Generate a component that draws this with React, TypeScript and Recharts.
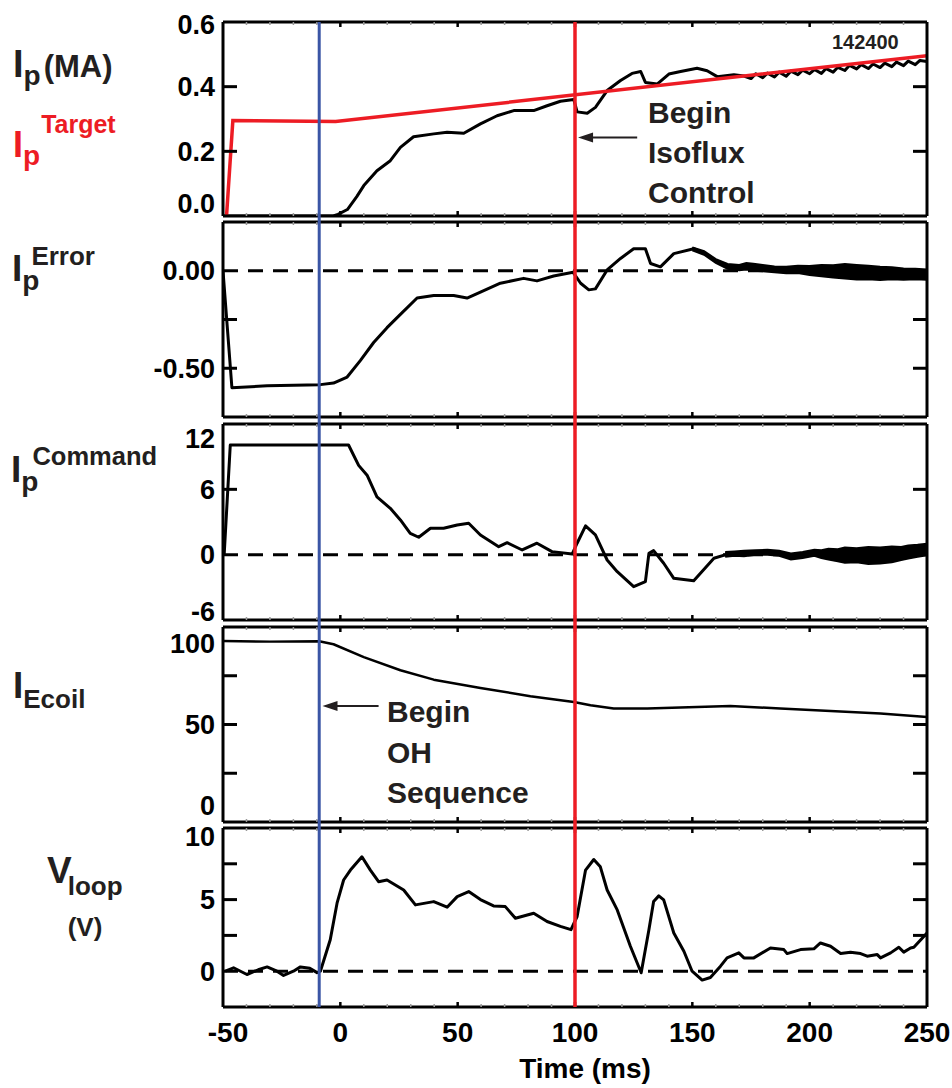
import React from 'react';
import { ComposedChart, Line, Area, XAxis, YAxis, ReferenceLine, ReferenceDot } from 'recharts';

// ---- time axis (ms) ----
const X_DOMAIN = [-50, 250];
const X_TICKS = [-50, -40, -30, -20, -10, 0, 10, 20, 30, 40, 50, 60, 70, 80, 90, 100, 110, 120, 130, 140, 150, 160, 170, 180, 190, 200, 210, 220, 230, 240, 250];
const X_LABELS = [-50, 0, 50, 100, 150, 200, 250];
const T_OH_START = -9;
const T_ISOFLUX = 100;

// ---- Ip (MA) ----
const IP_TICKS = [0, 0.2, 0.4, 0.6];
const IP_MEASURED: [number, number][] = [
  [-50, 0], [-3, 0], [-1, 0.005], [3, 0.02], [7, 0.06], [10, 0.094], [15.6, 0.14], [21.3, 0.171],
  [25.6, 0.212], [31.2, 0.245], [39.8, 0.254], [45.5, 0.259], [52.6, 0.256], [59.7, 0.285],
  [66.8, 0.31], [73.9, 0.326], [82.4, 0.326], [88.1, 0.341], [93.8, 0.355], [99.5, 0.36],
  [100.9, 0.322], [105.2, 0.318], [108.7, 0.336], [113.7, 0.388], [119.4, 0.419], [124.3, 0.441],
  [128, 0.447], [130, 0.413], [135, 0.408], [140, 0.439], [145, 0.447], [152, 0.457], [156.3, 0.449],
  [160.6, 0.431], [167.7, 0.437], [172, 0.433], [175, 0.425], [177, 0.44], [180, 0.428], [182, 0.442],
  [185, 0.43], [187, 0.445], [190, 0.432], [192, 0.448], [195, 0.437], [197, 0.451], [200, 0.44],
  [202, 0.453], [205, 0.441], [207, 0.456], [210, 0.445], [212, 0.46], [215, 0.45], [217, 0.466],
  [220, 0.455], [222, 0.468], [225, 0.456], [227, 0.47], [230, 0.459], [232, 0.473], [235, 0.462],
  [237, 0.476], [240, 0.465], [242, 0.479], [245, 0.468], [247, 0.481], [250, 0.478],
];
const IP_TARGET: [number, number][] = [[-48.5, 0], [-45.8, 0.295], [-2, 0.292], [250, 0.496]];

// ---- Ip error ----
const ERR_TICKS = [-0.75, -0.5, -0.25, 0, 0.25];
const ERR_LABELS = [-0.5, 0];
const IP_ERROR: [number, number][] = [
  [-50, 0], [-46.2, -0.6], [-31.2, -0.59], [-8.5, -0.584], [-2.9, -0.576], [2.9, -0.545], [8.5, -0.461],
  [14.2, -0.368], [19.9, -0.292], [25.6, -0.224], [32.7, -0.14], [39.8, -0.127], [48.3, -0.127],
  [54, -0.14], [59.7, -0.11], [68.2, -0.064], [78.1, -0.039], [83.8, -0.052], [90.9, -0.027],
  [99.2, -0.008], [102.4, -0.064], [105.9, -0.098], [108.7, -0.093], [113.7, 0.004], [119.4, 0.063],
  [125, 0.113], [130, 0.113], [132.2, 0.037], [136.4, 0.02], [142.1, 0.088], [150.6, 0.113],
  [155, 0.092], [160, 0.05],
];
const IP_ERROR_NOISE: [number, number, number][] = [
  [150, 0.105, 0.12], [155, 0.082, 0.1], [160, 0.04, 0.06], [165, 0.01, 0.035], [170, 0.002, 0.03],
  [173, 0.006, 0.04], [176, 0.0, 0.036], [180, -0.002, 0.03], [185, -0.008, 0.022], [190, -0.013, 0.02],
  [195, -0.012, 0.026], [200, -0.022, 0.024], [205, -0.028, 0.03], [210, -0.035, 0.028],
  [215, -0.04, 0.034], [220, -0.045, 0.03], [225, -0.044, 0.026], [230, -0.047, 0.02],
  [235, -0.043, 0.018], [240, -0.046, 0.012], [245, -0.044, 0.01], [250, -0.046, 0.006],
];

// ---- Ip command ----
const CMD_TICKS = [-6, 0, 6, 12];
const IP_COMMAND: [number, number][] = [
  [-49.5, 0], [-46.9, 10.07], [3.5, 10.07], [7.8, 8.2], [11.4, 7.3], [15.6, 5.3], [21.3, 4.26],
  [25.6, 3.19], [29.8, 1.96], [33.4, 1.6], [38.4, 2.42], [44, 2.42], [49.8, 2.73], [54.7, 2.88],
  [59.7, 1.81], [67.5, 0.73], [71.1, 1.1], [77.5, 0.43], [83.8, 1.05], [90.2, 0.28], [98.8, 0.06],
  [100.9, 1.05], [104.5, 2.64], [108.7, 1.81], [113.7, -0.49], [118, -1.56], [125, -2.94], [130, -2.48],
  [131.5, 0.12], [133.5, 0.37], [137.8, -0.79], [142.1, -2.17], [150.6, -2.39], [159.2, -0.33], [165, 0.05],
];
const IP_COMMAND_NOISE: [number, number, number][] = [
  [164, -0.2, 0.25], [168, -0.1, 0.3], [172, -0.15, 0.35], [177, 0.0, 0.4], [182, 0.0, 0.45],
  [187, -0.1, 0.35], [192, -0.45, 0.1], [197, -0.3, 0.25], [202, -0.1, 0.45], [205, -0.3, 0.4],
  [208, -0.45, 0.55], [212, -0.6, 0.5], [215, -0.75, 0.65], [220, -0.7, 0.6], [225, -0.85, 0.7],
  [230, -0.8, 0.65], [235, -0.7, 0.75], [239, -0.5, 0.7], [242, -0.35, 0.85], [246, -0.2, 0.9],
  [250, -0.05, 1.0],
];

// ---- E-coil current ----
const ECOIL_TICKS = [0, 20, 50, 80, 100];
const ECOIL_LABELS = [0, 50, 100];
const ECOIL_MARKS = [20, 50, 80];
const I_ECOIL: [number, number][] = [
  [-50, 101.4], [-30, 101], [-9, 101.2], [-2.9, 99.4], [10, 91.5], [25.6, 83.4], [39.8, 77.6],
  [59.7, 72.5], [81, 67.4], [99.5, 63.9], [106.6, 61.8], [116.5, 59.8], [130.8, 59.8], [144.9, 60.4],
  [166.2, 61.4], [187.5, 59.8], [208.9, 58.3], [230.2, 56.7], [250, 54.6],
];

// ---- loop voltage ----
const V_TICKS = [-2.5, 0, 2.5, 5, 7.5, 10];
const V_LABELS = [0, 5, 10];
const V_MARKS = [2.5, 5, 7.5];
const V_LOOP: [number, number][] = [
  [-49, 0], [-45.5, 0.24], [-39.8, -0.23], [-35, 0.1], [-31.2, 0.3], [-27, 0.0], [-24.2, -0.3],
  [-20, 0.0], [-17, 0.3], [-13, 0.2], [-9.9, -0.1], [-8.5, 0], [-4.3, 2.2], [-1.4, 4.75], [1.4, 6.37],
  [4.3, 7.06], [9.2, 7.99], [12.8, 7.06], [16.3, 6.25], [19.9, 6.37], [27, 5.67], [32, 4.63],
  [39.8, 4.86], [45.5, 4.47], [49.8, 5.21], [54.7, 5.56], [59.7, 5.0], [65.3, 4.56], [70.3, 4.51],
  [74.6, 3.7], [82.4, 4.05], [88.1, 3.47], [93.8, 3.13], [98.3, 2.9], [100.9, 3.82], [104.5, 7.06],
  [108, 7.8], [110.8, 7.29], [113.7, 5.67], [118, 4.28], [123.6, 1.74], [128.2, -0.11], [131.5, 2.9],
  [133.5, 4.86], [135.7, 5.26], [137.8, 4.98], [142.1, 2.67], [146.4, 1.39], [149.9, 0], [154.2, -0.62],
  [157.7, -0.44], [162, 0.35], [164.8, 0.93], [169.8, 1.28], [172, 0.93], [176.2, 0.93], [183.3, 1.62],
  [189, 1.51], [190.4, 1.23], [196.1, 1.51], [201.8, 1.56], [204.6, 1.97], [208.9, 1.74], [213.2, 1.23],
  [217.4, 1.33], [221.7, 1.23], [224.5, 1.05], [228.8, 1.16], [230.2, 0.93], [234.5, 1.28], [238, 1.67],
  [240.1, 1.33], [243, 1.62], [244.4, 1.67], [250, 2.67],
];

// ---- layout / style ----
const W = 952;
const H = 1088;
const PLOT_L = 223;
const PLOT_R = 927;
const RIGHT_W = 10;
const M_PAD = 14;
const AX_H = 1;
const FONT = "'Liberation Sans', Arial, Helvetica, sans-serif";
const INK = '#231f20';
const RED = '#ed1c24';
const BLUE = '#3a55a5';

const pts = (a: [number, number][]) => a.map(([t, v]) => ({ t, v }));
const band = (a: [number, number, number][]) => a.map(([t, lo, hi]) => ({ t, v: [lo, hi] }));
const marker = (t: number) => [{ t, y: 0 }, { t, y: 1 }];

function XTick({ x, y, payload, dir, showLabel }: any) {
  const v = payload.value;
  const edge = v === -50 || v === 250;
  const major = v % 50 === 0;
  return (
    <g>
      {!edge && (
        <line x1={x} x2={x} y1={y} y2={y + dir * (major ? 5 : 3)}
          stroke={major ? '#000' : '#9a9a9a'} strokeWidth={major ? 2.5 : 1.5} />
      )}
      {showLabel && X_LABELS.includes(v) && (
        <text x={x + (v === -50 ? 5 : 0)} y={y + 35} textAnchor="middle" fontSize={28}
          fontFamily={FONT} fontWeight="bold" fill="#000">{v}</text>
      )}
    </g>
  );
}

function YTick({ x, y, payload, labels, marks, fmt, shift }: any) {
  const v = payload.value;
  const edge = x + 8;
  return (
    <g>
      {marks.includes(v) && <line x1={edge} x2={edge + 14} y1={y} y2={y} stroke="#000" strokeWidth={3} />}
      {labels.includes(v) && (
        <text x={x} y={y + (shift[v] ?? 0)} dy="0.36em" textAnchor="end" fontSize={27}
          fontFamily={FONT} fontWeight="bold" fill="#000">{fmt(v)}</text>
      )}
    </g>
  );
}

function YMarkRight({ x, y, payload, marks }: any) {
  if (!marks.includes(payload.value)) return <g />;
  return <line x1={x - 14} x2={x} y1={y} y2={y} stroke="#000" strokeWidth={3} />;
}

const ArrowHead = ({ cx, cy }: any) => (
  <polygon points={`${cx},${cy} ${cx + 15},${cy - 5} ${cx + 15},${cy + 5}`} fill={INK} />
);

function Panel({ top, bottom, domain, ticks, labels, marks, fmt, shift = {}, last = false, children }: any) {
  const chartTop = top - M_PAD - AX_H;
  const botH = last ? H - bottom : AX_H;
  const mb = last ? 0 : M_PAD;
  const height = bottom - chartTop + botH + mb;
  const frame = { stroke: '#000', strokeWidth: 3 };
  return (
    <div style={{ position: 'absolute', left: 0, top: chartTop, width: W, height }}>
      <ComposedChart width={W} height={height}
        margin={{ top: M_PAD, right: W - PLOT_R - RIGHT_W, bottom: mb, left: 0 }}>
        <XAxis xAxisId="top" orientation="top" type="number" dataKey="t" domain={X_DOMAIN} allowDataOverflow
          ticks={X_TICKS} interval={0} height={AX_H} tickSize={0} tickMargin={0} tickLine={false}
          axisLine={frame} tick={(p: any) => <XTick {...p} dir={1} />} />
        <XAxis type="number" dataKey="t" domain={X_DOMAIN} allowDataOverflow
          ticks={X_TICKS} interval={0} height={botH} tickSize={0} tickMargin={0} tickLine={false}
          axisLine={frame} tick={(p: any) => <XTick {...p} dir={-1} showLabel={last} />} />
        <YAxis type="number" domain={domain} allowDataOverflow ticks={ticks} interval={0} width={PLOT_L}
          tickSize={0} tickMargin={8} tickLine={false} axisLine={frame}
          tick={(p: any) => <YTick {...p} labels={labels} marks={marks} fmt={fmt} shift={shift} />} />
        <YAxis yAxisId="r" orientation="right" type="number" domain={domain} allowDataOverflow ticks={ticks}
          interval={0} width={RIGHT_W} tickSize={0} tickMargin={0} tickLine={false} axisLine={frame}
          tick={(p: any) => <YMarkRight {...p} marks={marks} />} />
        {children}
      </ComposedChart>
    </div>
  );
}

const zeroLine = <ReferenceLine y={0} stroke="#000" strokeWidth={3} strokeDasharray="15 10" />;

export default function App() {
  return (
    <div style={{ position: 'absolute', left: 0, top: 0, width: W, height: H, background: '#fff' }}>
      <Panel top={22} bottom={216} domain={[0, 0.6]} ticks={IP_TICKS} labels={IP_TICKS} marks={[0.2, 0.4]}
        fmt={(v: number) => v.toFixed(1)} shift={{ 0.6: 2, 0: -13 }}>
        <Line data={pts(IP_MEASURED)} dataKey="v" stroke="#000" strokeWidth={3} strokeLinejoin="round"
          dot={false} activeDot={false} isAnimationActive={false} />
        <Line data={pts(IP_TARGET)} dataKey="v" stroke={RED} strokeWidth={3.5} dot={false} activeDot={false}
          isAnimationActive={false} />
        <ReferenceLine segment={[{ x: 126.5, y: 0.243 }, { x: 104, y: 0.243 }]} stroke={INK} strokeWidth={2} />
        <ReferenceDot x={101.3} y={0.243} shape={ArrowHead} />
      </Panel>

      <Panel top={222} bottom={417} domain={[-0.75, 0.25]} ticks={ERR_TICKS} labels={ERR_LABELS}
        marks={[-0.5, -0.25]} fmt={(v: number) => v.toFixed(2)}>
        {zeroLine}
        <Line data={pts(IP_ERROR)} dataKey="v" stroke="#000" strokeWidth={3} strokeLinejoin="round"
          dot={false} activeDot={false} isAnimationActive={false} />
        <Area data={band(IP_ERROR_NOISE)} dataKey="v" stroke="#000" strokeWidth={2} fill="#000" fillOpacity={1}
          dot={false} activeDot={false} isAnimationActive={false} />
      </Panel>

      <Panel top={424} bottom={620} domain={[-6, 12]} ticks={CMD_TICKS} labels={CMD_TICKS} marks={[6]}
        fmt={(v: number) => String(v)} shift={{ 12: 14, '-6': -9 }}>
        {zeroLine}
        <Line data={pts(IP_COMMAND)} dataKey="v" stroke="#000" strokeWidth={3} strokeLinejoin="round"
          dot={false} activeDot={false} isAnimationActive={false} />
        <Area data={band(IP_COMMAND_NOISE)} dataKey="v" stroke="#000" strokeWidth={2} fill="#000" fillOpacity={1}
          dot={false} activeDot={false} isAnimationActive={false} />
      </Panel>

      <Panel top={627} bottom={822} domain={[-10, 110]} ticks={ECOIL_TICKS} labels={ECOIL_LABELS}
        marks={ECOIL_MARKS} fmt={(v: number) => String(v)}>
        <Line data={pts(I_ECOIL)} dataKey="v" stroke="#000" strokeWidth={2.5} strokeLinejoin="round"
          dot={false} activeDot={false} isAnimationActive={false} />
        <ReferenceLine segment={[{ x: 16.3, y: 61.4 }, { x: -2, y: 61.4 }]} stroke={INK} strokeWidth={2} />
        <ReferenceDot x={-7.6} y={61.4} shape={ArrowHead} />
      </Panel>

      <Panel top={828} bottom={1007} domain={[-2.5, 10]} ticks={V_TICKS} labels={V_LABELS} marks={V_MARKS}
        fmt={(v: number) => String(v)} shift={{ 10: 8 }} last>
        {zeroLine}
        <Line data={pts(V_LOOP)} dataKey="v" stroke="#000" strokeWidth={3} strokeLinejoin="round"
          dot={false} activeDot={false} isAnimationActive={false} />
      </Panel>

      {/* event markers spanning all panels */}
      <div style={{ position: 'absolute', left: 0, top: 0, width: W, height: H, pointerEvents: 'none' }}>
        <ComposedChart width={W} height={H}
          margin={{ top: 22, bottom: H - 1007, left: PLOT_L, right: W - PLOT_R }}>
          <XAxis hide type="number" dataKey="t" domain={X_DOMAIN} allowDataOverflow />
          <YAxis hide type="number" domain={[0, 1]} allowDataOverflow />
          <Line data={marker(T_OH_START)} dataKey="y" stroke={BLUE} strokeWidth={3} dot={false}
            activeDot={false} isAnimationActive={false} />
          <Line data={marker(T_ISOFLUX)} dataKey="y" stroke={RED} strokeWidth={3.5} dot={false}
            activeDot={false} isAnimationActive={false} />
        </ComposedChart>
      </div>

      <svg width={W} height={H} style={{ position: 'absolute', left: 0, top: 0, pointerEvents: 'none' }}>
        <g fontFamily={FONT} fontWeight="bold" fill={INK}>
          <text x={13} y={77} fontSize={38}>I<tspan fontSize={28} dy={8}>p</tspan>
            <tspan fontSize={31} dy={-8} dx={3}>(MA)</tspan></text>

          <text x={13} y={157} fontSize={36} fill={RED}>I<tspan fontSize={28} dy={8}>p</tspan>
            <tspan fontSize={25} dy={-32} dx={1}>Target</tspan></text>

          <text x={12} y={281} fontSize={37}>I<tspan fontSize={28} dy={9}>p</tspan>
            <tspan fontSize={26} dy={-25} dx={-8}>Error</tspan></text>

          <text x={11} y={482} fontSize={37}>I<tspan fontSize={28} dy={9}>p</tspan>
            <tspan fontSize={25.5} dy={-26} dx={-6}>Command</tspan></text>

          <text x={13} y={698} fontSize={37}>I<tspan fontSize={26} dy={10}>Ecoil</tspan></text>

          <text x={47} y={883} fontSize={37}>V<tspan fontSize={26} dy={12} dx={-4}>loop</tspan></text>
          <text x={85} y={936} fontSize={26} textAnchor="middle">(V)</text>

          <text x={832} y={49} fontSize={20}>142400</text>

          <text x={648} y={123} fontSize={30}>Begin</text>
          <text x={648} y={163} fontSize={30}>Isoflux</text>
          <text x={648} y={203} fontSize={30}>Control</text>

          <text x={387} y={722} fontSize={30}>Begin</text>
          <text x={387} y={763} fontSize={30}>OH</text>
          <text x={387} y={803} fontSize={30}>Sequence</text>

          <text x={585} y={1078} fontSize={28} textAnchor="middle" fill="#000">Time (ms)</text>
        </g>
      </svg>
    </div>
  );
}
